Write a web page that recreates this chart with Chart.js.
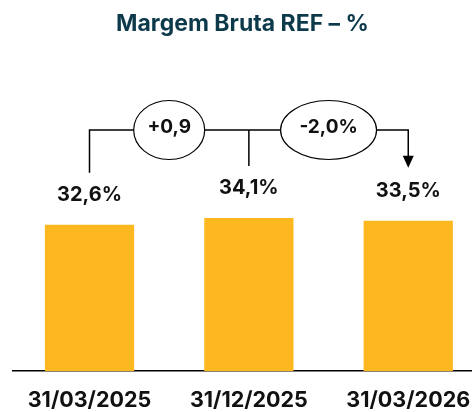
<!DOCTYPE html>
<html>
<head>
<meta charset="utf-8">
<script src="https://cdn.jsdelivr.net/npm/chart.js@4.4.1/dist/chart.umd.min.js"></script>
<style>
  html, body { margin: 0; padding: 0; background: #fff; }
  #wrap { width: 472px; height: 412px; position: relative; }
</style>
</head>
<body>
<div id="wrap"><canvas id="myChart"></canvas></div>
<script>
// Chart data
const categories = ['31/03/2025', '31/12/2025', '31/03/2026'];
const margemBruta = [32.6, 34.1, 33.5];
const valueLabels = ['32,6%', '34,1%', '33,5%'];
const deltaLabels = ['+0,9', '-2,0%'];
const chartTitle = 'Margem Bruta REF – %';

// Bracket + bubble annotations drawn on top of the bars
const bracketPlugin = {
  id: 'bracketNotes',
  afterDatasetsDraw(chart) {
    const ctx = chart.ctx;
    const bars = chart.getDatasetMeta(0).data;
    const lineY = 130;
    const gap = 52;
    const bubbles = [{ rx: 35.5, ry: 29.5 }, { rx: 48, ry: 29.5 }];

    ctx.save();

    // value labels above bars
    ctx.fillStyle = '#111';
    ctx.font = 'bold 20px Inter';
    ctx.textAlign = 'center';
    ctx.textBaseline = 'middle';
    bars.forEach((b, i) => ctx.fillText(valueLabels[i], b.x, b.y - 30));

    // connector lines
    ctx.strokeStyle = '#000';
    ctx.lineWidth = 1.5;
    ctx.beginPath();
    ctx.moveTo(bars[0].x, bars[0].y - gap);
    ctx.lineTo(bars[0].x, lineY);
    ctx.lineTo(bars[2].x, lineY);
    ctx.lineTo(bars[2].x, bars[2].y - gap - 12);
    ctx.moveTo(bars[1].x, lineY);
    ctx.lineTo(bars[1].x, bars[1].y - gap);
    ctx.stroke();

    // arrow head on the last one
    const tipY = bars[2].y - gap - 1;
    ctx.fillStyle = '#000';
    ctx.beginPath();
    ctx.moveTo(bars[2].x - 5.5, tipY - 12);
    ctx.lineTo(bars[2].x + 5.5, tipY - 12);
    ctx.lineTo(bars[2].x, tipY);
    ctx.closePath();
    ctx.fill();

    // bubbles with deltas
    ctx.lineWidth = 1.2;
    ctx.font = 'bold 19px Inter';
    deltaLabels.forEach((txt, i) => {
      const cx = (bars[i].x + bars[i + 1].x) / 2;
      ctx.beginPath();
      ctx.ellipse(cx, lineY, bubbles[i].rx, bubbles[i].ry, 0, 0, Math.PI * 2);
      ctx.fillStyle = '#fff';
      ctx.fill();
      ctx.stroke();
      ctx.fillStyle = '#111';
      ctx.fillText(txt, cx, lineY - 3);
    });

    ctx.restore();
  }
};

const chartConfig = {
  type: 'bar',
  data: {
    datasets: [{
      data: margemBruta.map((v, i) => ({ x: i, y: v })),
      backgroundColor: '#FDB71F',
      categoryPercentage: 1,
      barPercentage: 0.56
    }]
  },
  options: {
    responsive: true,
    maintainAspectRatio: false,
    animation: false,
    layout: { padding: { left: 13, right: 0, top: 0, bottom: -17 } },
    plugins: {
      legend: { display: false },
      tooltip: { enabled: false },
      title: {
        display: true,
        text: chartTitle,
        color: '#0d3a4a',
        font: { family: 'Inter', size: 23, weight: 'bold', lineHeight: 1.2 },
        padding: { top: 10, bottom: 64 }
      }
    },
    scales: {
      x: {
        type: 'linear',
        offset: false,
        min: -0.48,
        max: 2.4,
        grid: { display: false, drawTicks: false },
        border: { display: true, color: '#000', width: 1.5 },
        afterFit: (scale) => { scale.paddingLeft = 0; scale.paddingRight = 0; },
        ticks: {
          stepSize: 1,
          includeBounds: false,
          autoSkip: false,
          maxRotation: 0,
          padding: 16,
          color: '#111',
          font: { family: 'Inter', size: 21.5, weight: 'bold', lineHeight: 1.2 },
          callback: (v) => categories[v]
        }
      },
      y: {
        display: false,
        min: 0,
        max: 60
      }
    }
  },
  plugins: [bracketPlugin]
};

new Chart(document.getElementById('myChart'), chartConfig);
</script>
</body>
</html>
